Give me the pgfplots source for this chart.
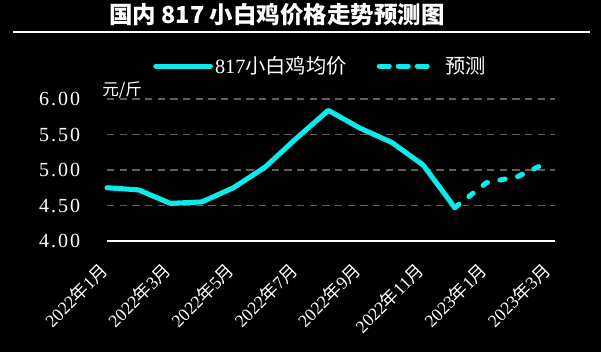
\documentclass[border=0pt]{standalone}
\usepackage{pgfplots}
\pgfplotsset{compat=1.18}
\usepackage{fontspec}
\setmainfont{Liberation Serif}
\newfontfamily\cjk{Noto Sans CJK SC}
\newcommand{\C}[1]{{\cjk #1}}
\definecolor{cy}{RGB}{10,235,235}
\definecolor{gridg}{RGB}{95,95,95}
\pgfplotstableread{
x y
0 4.75
1 4.72
2 4.53
3 4.55
4 4.75
5 5.04
6 5.45
7 5.84
8 5.59
9 5.39
10 5.07
11 4.47
}\actual
\pgfplotstableread{
x y
11 4.47
12 4.82
13 4.91
14 5.12
}\forecast
\begin{document}
\begin{tikzpicture}[x=0.75pt,y=0.75pt]
\fill[black] (0,0) rectangle (601,352);
\path[use as bounding box] (0,0) rectangle (601,352);
\node[text=white,font=\cjk\bfseries\fontsize{17.6}{20}\selectfont] at (277,337) {国内 817 小白鸡价格走势预测图};
\draw[white,line width=0.9pt] (13,320) -- (590,320);
\begin{axis}[
  at={(80.25pt,83.25pt)}, anchor=south west,
  scale only axis, width=336pt, height=106.5pt,
  xmin=0, xmax=14.17, ymin=4, ymax=6,
  axis line style={draw=none},
  axis x line*=bottom, axis y line*=left,
  xtick={0,2,4,6,8,10,12,14},
  xticklabels={2022\C{年}1\C{月},2022\C{年}3\C{月},2022\C{年}5\C{月},2022\C{年}7\C{月},2022\C{年}9\C{月},2022\C{年}11\C{月},2023\C{年}1\C{月},2023\C{年}3\C{月}},
  xticklabel style={xshift=-2pt, yshift=-19.5pt, rotate=45, anchor=east, inner sep=0pt, text=white, font=\fontsize{13.3}{15}\selectfont},
  ytick={4,4.5,5,5.5,6},
  yticklabel style={anchor=east, inner sep=0pt, xshift=-20pt, text=white, font=\fontsize{15}{17}\selectfont\addfontfeature{LetterSpace=10}},
  /pgf/number format/assume math mode=true,
  yticklabel={\pgfmathprintnumber[fixed,fixed zerofill,precision=2]{\tick}},
  major tick length=0pt,
  ymajorgrids, grid style={gridg, dash pattern=on 5.5pt off 4pt, line width=0.8pt},
  clip=false,
  legend style={at={(0.1027,1.232)}, anchor=west, draw=none, fill=none, inner sep=0pt,
    text=white, font=\fontsize{15.2}{17}\selectfont, legend columns=2,
    nodes={inner sep=1.5pt}, /tikz/every even column/.append style={column sep=21pt}},
]
\draw[white, line width=1.2pt] (axis cs:0,4) -- (axis cs:14.17,4);
\addplot[cy, line width=3.8pt, line join=round, line cap=round,
  legend image code/.code={\draw[cy, line width=3.8pt, line cap=round] (0pt,0pt) -- (41pt,0pt);}]
  table[x=x,y=y] {\actual};
\addlegendentry{817\C{小白鸡均价}}
\addplot[cy, line width=3.8pt, line join=round, line cap=round, dash pattern=on 4pt off 9.5pt,
  legend image code/.code={\draw[cy, line width=3.8pt, line cap=round, dash pattern=on 7.5pt off 6.75pt] (0pt,0pt) -- (36pt,0pt); \path[draw=none, fill=none] (48pt,0pt) circle[radius=0.1pt];}]
  table[x=x,y=y] {\forecast};
\addlegendentry{\C{预测}}
\end{axis}
\node[text=white, font=\cjk\fontsize{12.5}{15}\selectfont, anchor=west, inner sep=0pt] at (102,262) {元/斤};
\end{tikzpicture}
\end{document}
